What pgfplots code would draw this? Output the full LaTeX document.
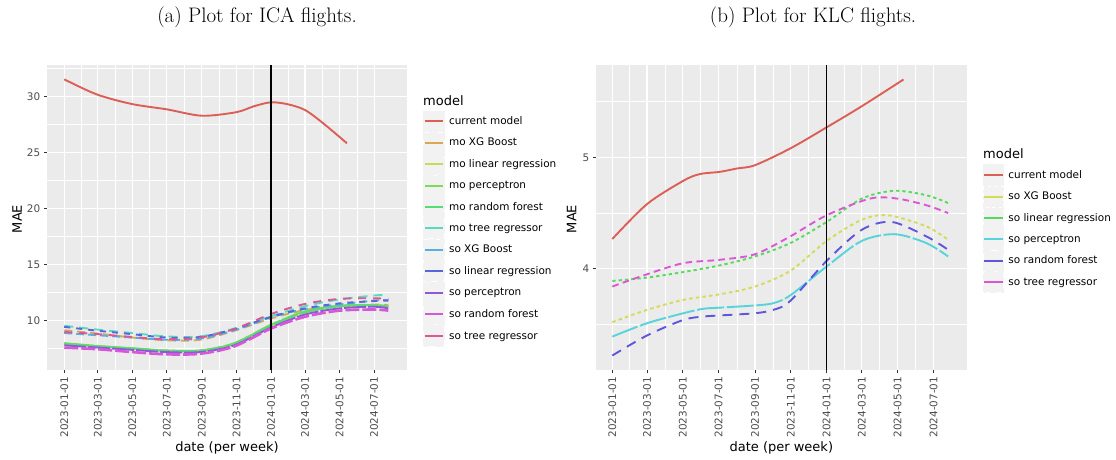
\documentclass[border=0pt]{standalone}
\usepackage{pgfplots}
\pgfplotsset{compat=1.18}
\usepackage{fontspec}
\newfontfamily\djv{DejaVu Sans}
\definecolor{pbg}{HTML}{EBEBEB}
\definecolor{keybg}{HTML}{F2F2F2}
\definecolor{ticklab}{HTML}{4D4D4D}
\definecolor{tickc}{HTML}{333333}
% 11-level palette
\definecolor{a1}{HTML}{DB5F57}
\definecolor{a2}{HTML}{DBA757}
\definecolor{a3}{HTML}{C7DB57}
\definecolor{a4}{HTML}{7FDB57}
\definecolor{a5}{HTML}{57DB77}
\definecolor{a6}{HTML}{57DBBF}
\definecolor{a7}{HTML}{57AFDB}
\definecolor{a8}{HTML}{5767DB}
\definecolor{a9}{HTML}{8F57DB}
\definecolor{a10}{HTML}{D757DB}
\definecolor{a11}{HTML}{DB5797}
% 6-level palette
\definecolor{b1}{HTML}{DB5F57}
\definecolor{b2}{HTML}{D3DB57}
\definecolor{b3}{HTML}{57DB5F}
\definecolor{b4}{HTML}{57D3DB}
\definecolor{b5}{HTML}{5F57DB}
\definecolor{b6}{HTML}{DB57D3}
\pgfplotsset{gg/.style={
  scale only axis, height=305bp,
  axis background/.style={fill=pbg},
  axis line style={draw=none},
  grid=both,
  major grid style={white, line width=1.1bp},
  minor grid style={white, line width=0.55bp},
  tick align=outside, tick pos=left,
  major tick length=3.3bp, minor tick length=0pt,
  every tick/.style={tickc, line width=0.8bp},
  /pgf/number format/assume math mode=true,
  ticklabel style={font=\djv\fontsize{10.45bp}{12bp}\selectfont, text=ticklab},
  xtick={0,59,120,181,243,304,365,425,486,547},
  xticklabels={2023-01-01,2023-03-01,2023-05-01,2023-07-01,2023-09-01,2023-11-01,2024-01-01,2024-03-01,2024-05-01,2024-07-01},
  minor xtick={29.5,89.5,150.5,212,273.5,334.5,395,455.5,516.5},
  xticklabel style={rotate=90, anchor=east},
  xlabel={date (per week)}, ylabel={MAE},
  label style={font=\djv\fontsize{13bp}{15bp}\selectfont},
  xlabel style={at={(axis description cs:0.5,-0.2567)}, anchor=center},
  legend cell align=left,
  legend style={draw=none, fill=none, inner sep=0pt, outer sep=0pt, row sep=-0.5bp, column sep=4bp,
    nodes={inner sep=0pt}, font=\djv\fontsize{10.45bp}{12bp}\selectfont, anchor=north west},
  legend image code/.code={\fill[keybg] (0bp,-10bp) rectangle (19.5bp,10bp); \draw[#1,solid,line width=2bp] (0.5bp,0bp) -- (19bp,0bp);},
  ln/.style={line width=1.9bp, no markers, smooth},
  clip=true,
}}
\begin{document}
\begin{tikzpicture}
\useasboundingbox (0,0) rectangle (1116bp,460bp);
\node[font=\fontsize{21bp}{24bp}\selectfont] at (257bp,443bp) {(a) Plot for ICA flights.};
\node[font=\fontsize{21bp}{24bp}\selectfont] at (813bp,443bp) {(b) Plot for KLC flights.};
\node[anchor=west, inner sep=0pt, font=\djv\fontsize{13bp}{15bp}\selectfont] at (423bp,359.3bp) {model};
\node[anchor=west, inner sep=0pt, font=\djv\fontsize{13bp}{15bp}\selectfont] at (983bp,306bp) {model};

\begin{axis}[gg, at={(47bp,90bp)}, anchor=south west, width=360bp,
  xmin=-30.5, xmax=605, ymin=5.6, ymax=32.83,
  ytick={10,15,20,25,30}, minor ytick={7.5,12.5,17.5,22.5,27.5,32.5},
  ylabel style={at={(axis description cs:-0.0833,0.495)}, anchor=center},
  legend style={at={(1.0444,0.8508)}}]
\addplot[ln, a1] coordinates {(0,31.55)(57,30.21)(119,29.35)(181,28.87)(243,28.30)(304,28.62)(335,29.15)(365,29.50)(395,29.32)(425,28.81)(457,27.63)(499,25.84)};
\addlegendentry{current model}
\addplot[ln, a2, dash pattern=on 8bp off 5bp] coordinates {(0,9.15)(60,8.85)(120,8.5)(180,8.25)(240,8.3)(300,9.1)(365,10.2)(425,10.95)(486,11.3)(547,11.45)(572,11.4)};
\addlegendentry{mo XG Boost}
\addplot[ln, a3, dash pattern=on 20bp off 2bp] coordinates {(0,7.9)(60,7.7)(120,7.5)(180,7.3)(240,7.3)(300,7.9)(365,9.55)(425,10.7)(486,11.28)(547,11.36)(572,11.25)};
\addlegendentry{mo linear regression}
\addplot[ln, a4, dash pattern=on 30bp off 2bp] coordinates {(0,8.0)(60,7.75)(120,7.55)(180,7.35)(240,7.35)(300,8.0)(365,9.65)(425,10.85)(486,11.35)(547,11.4)(572,11.3)};
\addlegendentry{mo perceptron}
\addplot[ln, a5, dash pattern=on 25bp off 2bp] coordinates {(0,7.95)(60,7.72)(120,7.52)(180,7.33)(240,7.33)(300,7.95)(365,9.6)(425,10.75)(486,11.3)(547,11.38)(572,11.28)};
\addlegendentry{mo random forest}
\addplot[ln, a6, dash pattern=on 9bp off 6bp] coordinates {(0,9.55)(60,9.2)(120,8.9)(180,8.6)(240,8.6)(300,9.3)(365,10.4)(425,11.3)(486,11.9)(547,12.25)(572,12.3)};
\addlegendentry{mo tree regressor}
\addplot[ln, a7, dash pattern=on 8bp off 4bp] coordinates {(0,8.9)(60,8.7)(120,8.5)(180,8.3)(240,8.4)(300,9.15)(365,10.3)(425,11.05)(486,11.45)(547,11.8)(572,11.85)};
\addlegendentry{so XG Boost}
\addplot[ln, a8, dash pattern=on 6bp off 6bp] coordinates {(0,9.45)(60,9.1)(120,8.8)(180,8.5)(240,8.55)(300,9.25)(365,10.35)(425,11.1)(486,11.55)(547,11.75)(572,11.8)};
\addlegendentry{so linear regression}
\addplot[ln, a9, dash pattern=on 22bp off 2bp] coordinates {(0,7.8)(60,7.6)(120,7.4)(180,7.2)(240,7.2)(300,7.8)(365,9.4)(425,10.55)(486,11.1)(547,11.25)(572,11.1)};
\addlegendentry{so perceptron}
\addplot[ln, a10, line width=2.6bp, dash pattern=on 14bp off 3bp] coordinates {(0,7.6)(60,7.45)(120,7.2)(180,7.0)(240,7.05)(300,7.7)(365,9.3)(425,10.35)(486,10.9)(547,11.0)(572,10.9)};
\addlegendentry{so random forest}
\addplot[ln, a11, dash pattern=on 8bp off 7bp] coordinates {(0,9.0)(60,8.8)(120,8.55)(180,8.35)(240,8.5)(300,9.25)(365,10.6)(425,11.5)(486,11.95)(547,12.0)(572,11.95)};
\addlegendentry{so tree regressor}
\addplot[black, line width=1.1bp, no markers, forget plot] coordinates {(365,5.6)(365,32.83)};
\end{axis}

\begin{axis}[gg, at={(596bp,90bp)}, anchor=south west, width=370.7bp,
  xmin=-27.8, xmax=603.6, ymin=3.09, ymax=5.83,
  ytick={4,5}, minor ytick={3.5,4.5,5.5},
  ylabel style={at={(axis description cs:-0.0656,0.495)}, anchor=center},
  legend style={at={(1.044,0.6748)}}]
\addplot[ln, b1] coordinates {(0,4.267)(59,4.58)(121,4.79)(149,4.85)(183,4.87)(212,4.90)(243,4.93)(303,5.08)(365,5.27)(425,5.46)(496,5.70)};
\addlegendentry{current model}
\addplot[ln, b2, dash pattern=on 3.5bp off 3.2bp] coordinates {(0,3.52)(59,3.63)(121,3.72)(183,3.77)(243,3.84)(303,3.98)(365,4.25)(425,4.44)(470,4.48)(535,4.38)(572,4.26)};
\addlegendentry{so XG Boost}
\addplot[ln, b3, dash pattern=on 3.3bp off 3bp] coordinates {(0,3.89)(59,3.92)(121,3.97)(183,4.03)(243,4.11)(303,4.23)(365,4.42)(425,4.63)(480,4.70)(535,4.66)(572,4.59)};
\addlegendentry{so linear regression}
\addplot[ln, b4, dash pattern=on 27bp off 2.7bp] coordinates {(0,3.39)(59,3.51)(121,3.60)(155,3.64)(183,3.65)(243,3.67)(274,3.69)(303,3.76)(365,4.02)(425,4.25)(481,4.31)(535,4.23)(572,4.11)};
\addlegendentry{so perceptron}
\addplot[ln, b5, dash pattern=on 10bp off 7bp] coordinates {(0,3.22)(59,3.40)(121,3.54)(155,3.57)(183,3.58)(243,3.60)(274,3.63)(303,3.71)(365,4.07)(425,4.35)(476,4.42)(535,4.29)(572,4.17)};
\addlegendentry{so random forest}
\addplot[ln, b6, dash pattern=on 6.7bp off 4.3bp] coordinates {(0,3.84)(59,3.95)(121,4.05)(183,4.08)(243,4.13)(303,4.29)(365,4.48)(439,4.63)(485,4.63)(535,4.57)(572,4.50)};
\addlegendentry{so tree regressor}
\addplot[black, line width=1.1bp, no markers, forget plot] coordinates {(365,3.09)(365,5.83)};
\end{axis}
\end{tikzpicture}
\end{document}
